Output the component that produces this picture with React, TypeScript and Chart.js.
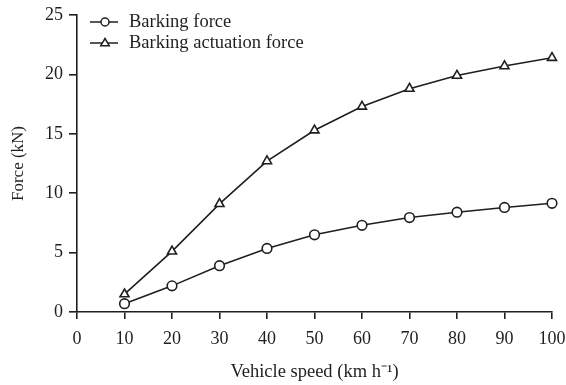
import React, { useEffect, useRef } from "react";
import { Chart, registerables } from "chart.js";

Chart.register(...registerables);

const speeds = [10, 20, 30, 40, 50, 60, 70, 80, 90, 100];
const barkingForce = [0.7, 2.2, 3.9, 5.35, 6.5, 7.3, 7.95, 8.4, 8.8, 9.15];
const actuationForce = [1.5, 5.1, 9.1, 12.7, 15.3, 17.3, 18.8, 19.9, 20.7, 21.4];
const seriesNames = ["Barking force", "Barking actuation force"];
const xTitle = "Vehicle speed (km h\u207B\u00B9)";
const yTitle = "Force (kN)";

const FONT = "'Liberation Serif', 'Times New Roman', serif";
const INK = "#1f1f1f";

const legendPlugin = {
  id: "insideLegend",
  afterDraw(chart: any) {
    const ctx = chart.ctx;
    const area = chart.chartArea;
    const x0 = area.left + 13;
    const rows = chart.data.datasets;
    ctx.save();
    rows.forEach((ds: any, i: number) => {
      const y = area.top + 7 + i * 21;
      ctx.strokeStyle = INK;
      ctx.lineWidth = 1.5;
      ctx.beginPath();
      ctx.moveTo(x0, y);
      ctx.lineTo(x0 + 28, y);
      ctx.stroke();
      ctx.fillStyle = "#fff";
      ctx.beginPath();
      const cx = x0 + 15;
      if (ds.pointStyle === "triangle") {
        const r = 4.5;
        ctx.moveTo(cx, y - r);
        ctx.lineTo(cx + r * 0.95, y + r * 0.6);
        ctx.lineTo(cx - r * 0.95, y + r * 0.6);
        ctx.closePath();
      } else {
        ctx.arc(cx, y, 4, 0, Math.PI * 2);
      }
      ctx.fill();
      ctx.stroke();
      ctx.fillStyle = INK;
      ctx.font = `18.5px ${FONT}`;
      ctx.textBaseline = "middle";
      ctx.textAlign = "left";
      ctx.fillText(ds.label, x0 + 39, y + 0.5);
    });
    ctx.restore();
  },
};

export default function App() {
  const ref = useRef<HTMLCanvasElement | null>(null);
  useEffect(() => {
    if (!ref.current) return;
    const mk = (label: string, vals: number[], style: string, r: number) => ({
      label,
      data: speeds.map((s, i) => ({ x: s, y: vals[i] })),
      borderColor: INK,
      borderWidth: 1.6,
      pointStyle: style,
      pointRadius: r,
      pointBackgroundColor: "#fff",
      pointBorderColor: INK,
      pointBorderWidth: 1.6,
      tension: 0,
      fill: false,
      clip: false,
    });
    const chart = new Chart(ref.current, {
      type: "line",
      data: {
        datasets: [
          mk(seriesNames[0], barkingForce, "circle", 4.8),
          mk(seriesNames[1], actuationForce, "triangle", 5.2),
        ],
      },
      options: {
        animation: false,
        responsive: false,
        maintainAspectRatio: false,
        layout: { padding: { top: 15, right: 14, left: 0, bottom: 0 } },
        plugins: { legend: { display: false }, tooltip: { enabled: false } },
        scales: {
          x: {
            type: "linear",
            min: 0,
            max: 100,
            ticks: { stepSize: 10, color: INK, font: { family: FONT, size: 18 }, padding: 9, maxRotation: 0 },
            grid: { drawOnChartArea: false, drawTicks: true, tickLength: 7, color: INK, lineWidth: 1.6 },
            border: { display: true, color: INK, width: 1.6 },
            title: { display: true, text: xTitle, color: INK, font: { family: FONT, size: 18.5 }, padding: { top: 0, bottom: 2 } },
            afterFit: (s: any) => { s.height = 73; s.paddingLeft = 0; s.paddingRight = 0; },
          },
          y: {
            min: 0,
            max: 25,
            ticks: { stepSize: 5, color: INK, font: { family: FONT, size: 18 }, padding: 6 },
            grid: { drawOnChartArea: false, drawTicks: true, tickLength: 8, color: INK, lineWidth: 1.6 },
            border: { display: true, color: INK, width: 1.6 },
            title: { display: true, text: yTitle, color: INK, font: { family: FONT, size: 17 }, padding: { top: 8, bottom: 0 } },
            afterFit: (s: any) => { s.width = 77; s.paddingTop = 0; s.paddingBottom = 0; },
          },
        },
      } as any,
      plugins: [legendPlugin],
    });
    return () => chart.destroy();
  }, []);
  return (
    <div style={{ position: "fixed", left: 0, top: 0, width: 566, height: 385, background: "#fff" }}>
      <canvas ref={ref} width={566} height={385} style={{ width: 566, height: 385 }} />
    </div>
  );
}
